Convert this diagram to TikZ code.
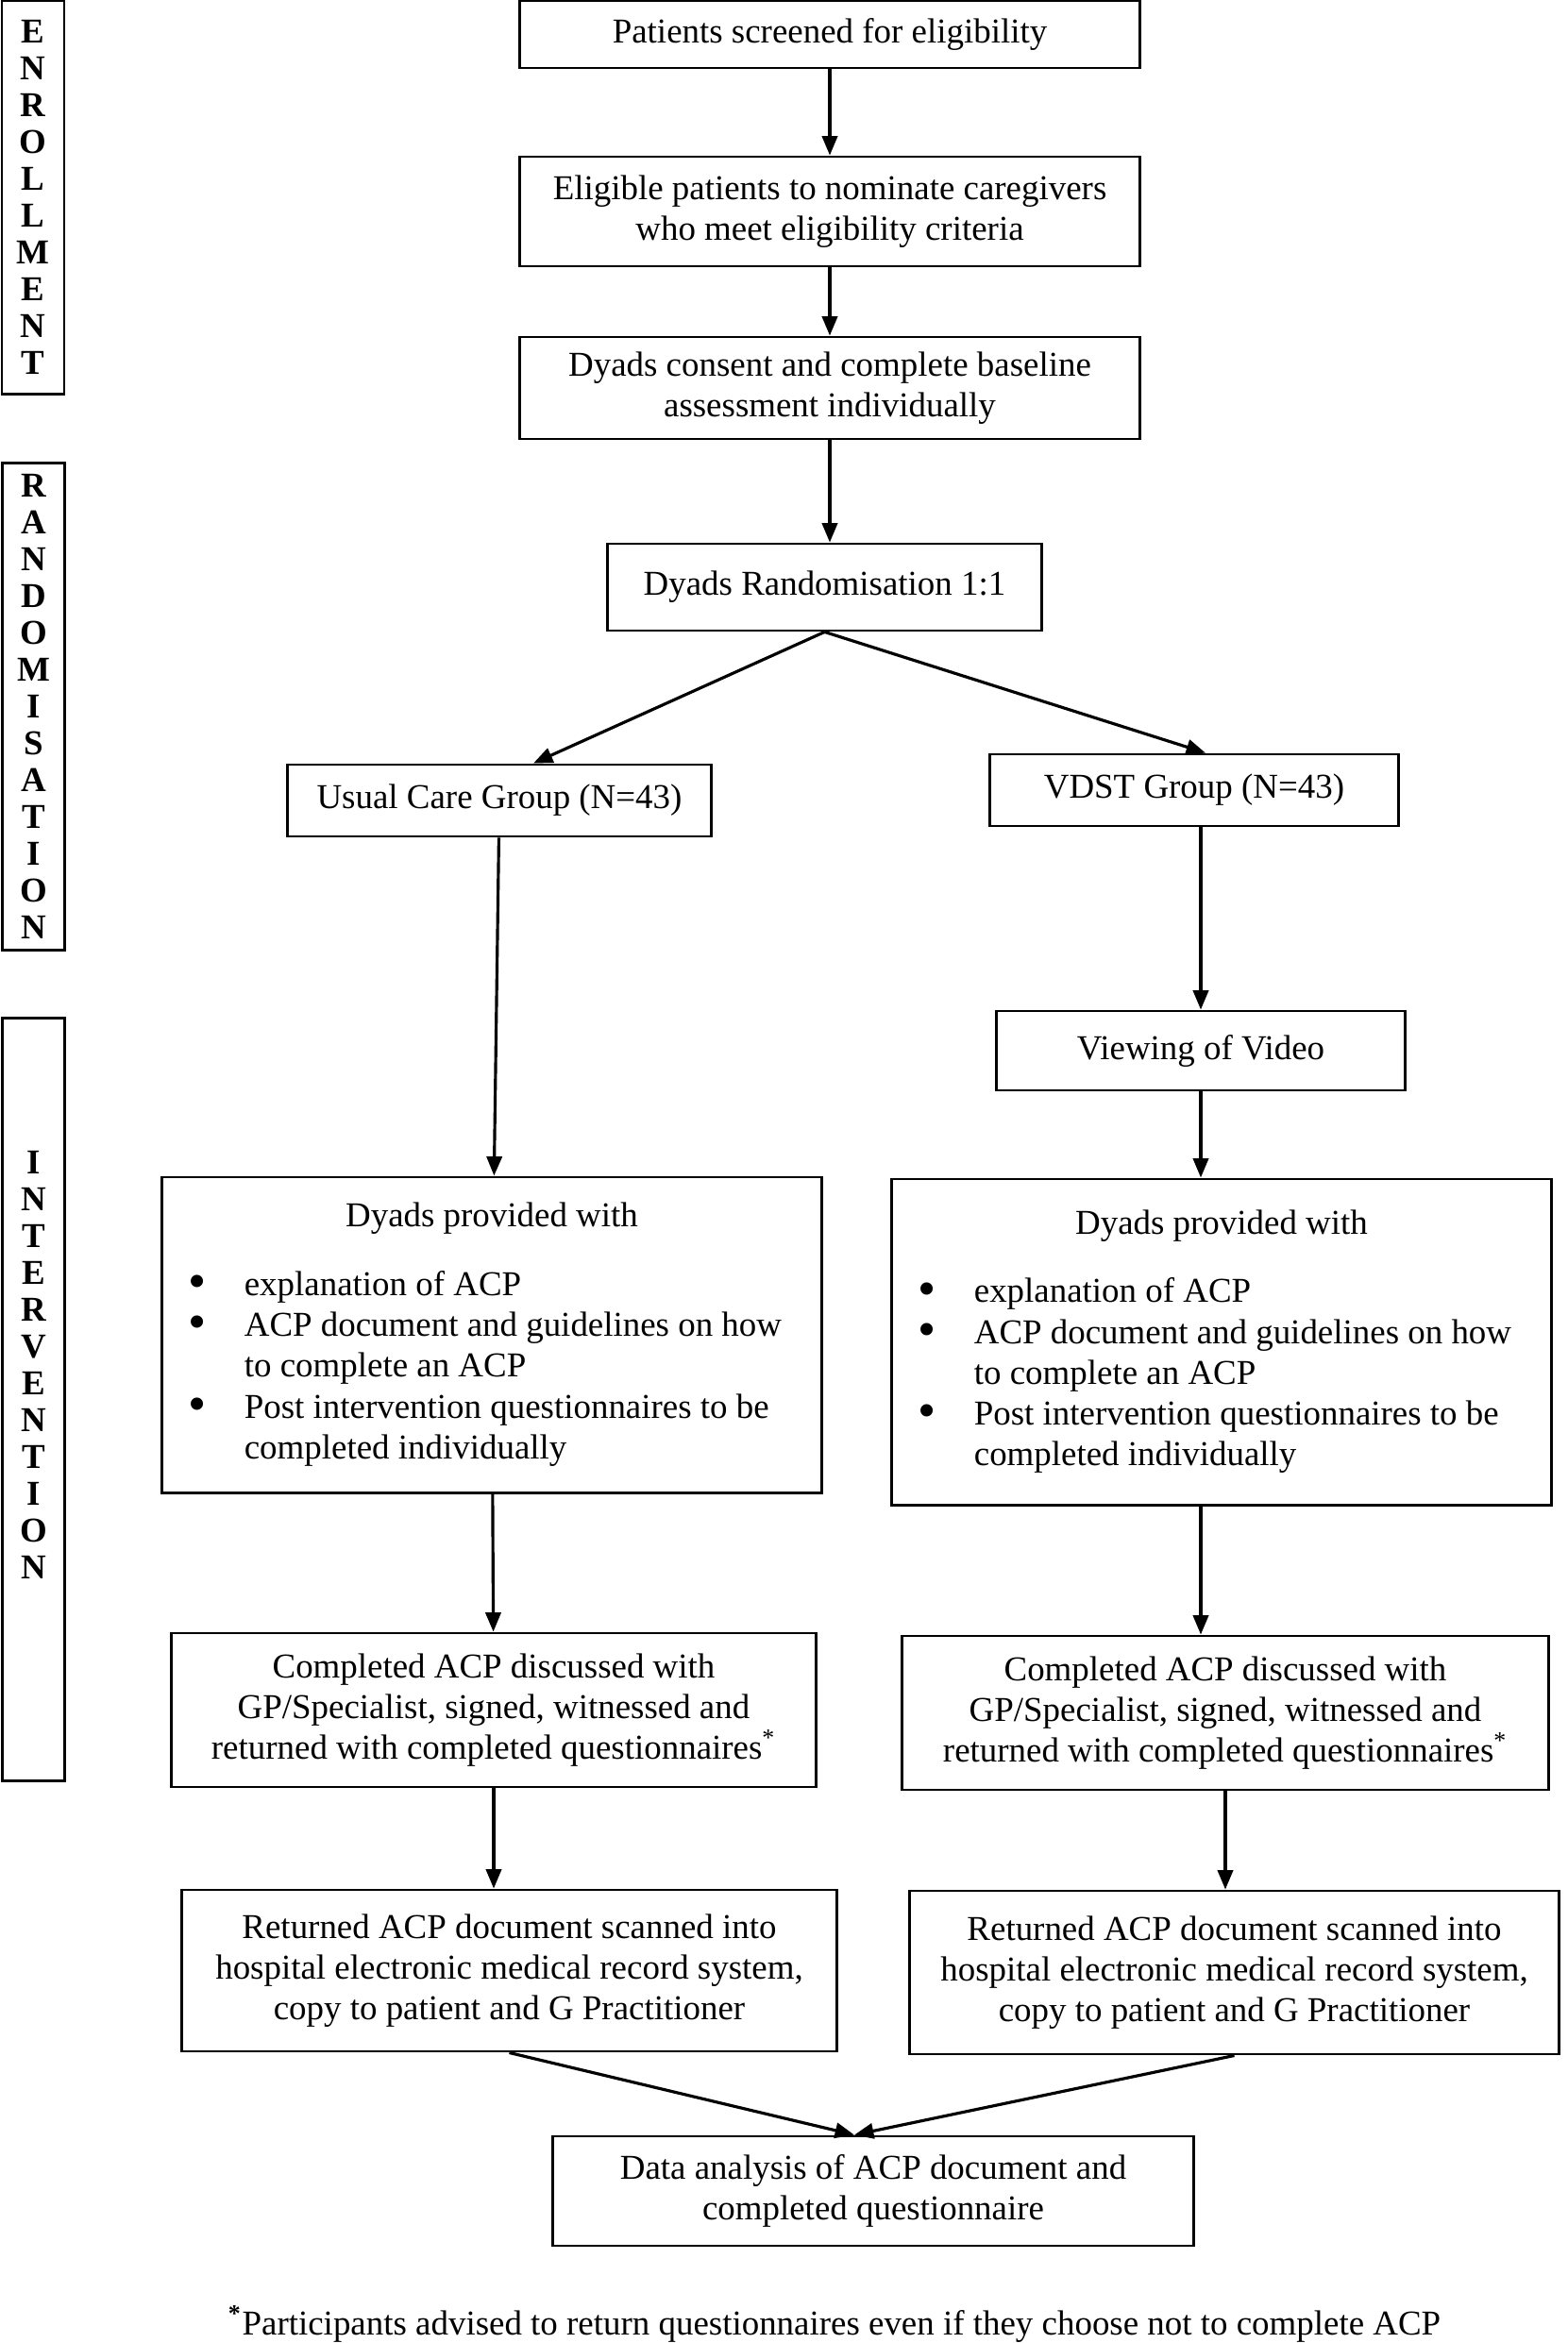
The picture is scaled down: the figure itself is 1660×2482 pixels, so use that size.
\documentclass[tikz,border=0pt]{standalone}
\usepackage{fontspec}
\setmainfont{Liberation Serif}
\usetikzlibrary{arrows.meta,calc}
\newcommand{\boxfont}{\fontsize{10.5}{12.3}\selectfont}
\newcommand{\sidefont}{\fontsize{10.5}{11.1}\selectfont\bfseries}
\newcommand{\bigdot}{\smash{\raisebox{-0.9pt}{\fontsize{15.5}{12.3}\selectfont\textbullet}}}
\newcommand{\dyadslist}{%
    \begin{tabular}{@{}p{0.59cm}@{}p{5.83cm}@{}}
        \multicolumn{2}{@{}c@{}}{Dyads provided with}\\[8.3pt]
        \bigdot & explanation of ACP\\
        \bigdot & ACP document and guidelines on how\newline to complete an ACP\\
        \bigdot & Post intervention questionnaires to be\newline completed individually
    \end{tabular}}
\tikzset{
    flowbox/.style={draw, line width=0.8pt, inner sep=0pt, align=center, font=\boxfont},
    sidebox/.style={draw, line width=0.8pt, inner sep=0pt, minimum width=0.66cm},
    sidetext/.style={align=center, font=\sidefont},
    arrow/.style={-{Triangle[length=5.8pt,width=4.6pt]}, line width=0.9pt}
}

\begin{document}
\begin{tikzpicture}[x=0.01cm, y=-0.01cm]
        \useasboundingbox (0,0) rectangle (1660,2482);

        % stage labels
        \node[sidebox, sidetext, minimum height=4.16cm] (enrol) at (35,209) {E\\N\\R\\O\\L\\L\\M\\E\\N\\T};
        \node[sidebox, sidetext, minimum height=5.15cm] (randlabel) at (35.5,748.5) {R\\A\\N\\D\\O\\M\\I\\S\\A\\T\\I\\O\\N};
        \node[sidebox, minimum height=8.07cm] (interv) at (35.5,1482.5) {};
        \node[sidetext] (intervtext) at (35.5,1446) {I\\N\\T\\E\\R\\V\\E\\N\\T\\I\\O\\N};

        % common trunk
        \node[flowbox, minimum width=6.57cm, minimum height=0.71cm] (screen) at (879,36.5) {Patients screened for eligibility};
        \node[flowbox, minimum width=6.57cm, minimum height=1.16cm] (elig) at (879,224) {Eligible patients to nominate caregivers\\who meet eligibility criteria};
        \node[flowbox, minimum width=6.57cm, minimum height=1.08cm] (consent) at (879,411) {Dyads consent and complete baseline\\assessment individually};
        \node[flowbox, minimum width=4.59cm, minimum height=0.92cm] (rand) at (873.5,622) {Dyads Randomisation 1:1};

        % usual care arm
        \node[flowbox, minimum width=4.48cm, minimum height=0.76cm] (usual) at (529,848) {Usual Care Group (N=43)};
        \node[flowbox, minimum width=6.98cm, minimum height=3.34cm] (dyadsL) at (521,1414) {\dyadslist};
        \node[flowbox, minimum width=6.82cm, minimum height=1.63cm] (complL) at (523,1811.5) {Completed ACP discussed with\\GP/Specialist, signed, witnessed and\\returned with completed questionnaires\textsuperscript{*}};
        \node[flowbox, minimum width=6.93cm, minimum height=1.71cm] (retL) at (539.5,2087.5) {Returned ACP document scanned into\\hospital electronic medical record system,\\copy to patient and G Practitioner};

        % video arm
        \node[flowbox, minimum width=4.32cm, minimum height=0.76cm] (vdst) at (1265,837) {VDST Group (N=43)};
        \node[flowbox, minimum width=4.32cm, minimum height=0.84cm] (video) at (1272,1113) {Viewing of Video};
        \node[flowbox, minimum width=6.98cm, minimum height=3.45cm] (dyadsR) at (1294,1421.5) {\dyadslist};
        \node[flowbox, minimum width=6.84cm, minimum height=1.63cm] (complR) at (1298,1814.5) {Completed ACP discussed with\\GP/Specialist, signed, witnessed and\\returned with completed questionnaires\textsuperscript{*}};
        \node[flowbox, minimum width=6.87cm, minimum height=1.73cm] (retR) at (1307.5,2089.5) {Returned ACP document scanned into\\hospital electronic medical record system,\\copy to patient and G Practitioner};

        \node[flowbox, minimum width=6.78cm, minimum height=1.16cm] (data) at (925,2321) {Data analysis of ACP document and\\completed questionnaire};
        \node[font=\boxfont] (note) at (884,2462) {\textsuperscript{\textbf{*}}Participants advised to return questionnaires even if they choose not to complete ACP};

        % arrows
        \foreach \from/\to in {screen/elig,elig/consent,usual/dyadsL,dyadsL/complL}{
            \draw[arrow] (\from) -- (\to);
        }
        \draw[arrow] (consent.south) -- (consent.south |- rand.north);
        \draw[arrow] (rand.south) -- ($(usual.north)+(36,0)$);
        \draw[arrow] (rand.south) -- ($(vdst.north)+(12,0)$);
        \draw[arrow] (video.north |- vdst.south) -- (video.north);
        \draw[arrow] (video.south) -- (video.south |- dyadsR.north);
        \draw[arrow] (video.south |- dyadsR.south) -- (video.south |- complR.north);
        \draw[arrow] (complL.south) -- (complL.south |- retL.north);
        \draw[arrow] (complR.south) -- (complR.south |- retR.north);
        \draw[arrow] (retL.south) -- ($(data.north)+(-20,0)$);
        \draw[arrow] (retR.south) -- ($(data.north)+(-20,0)$);
\end{tikzpicture}
\end{document}
